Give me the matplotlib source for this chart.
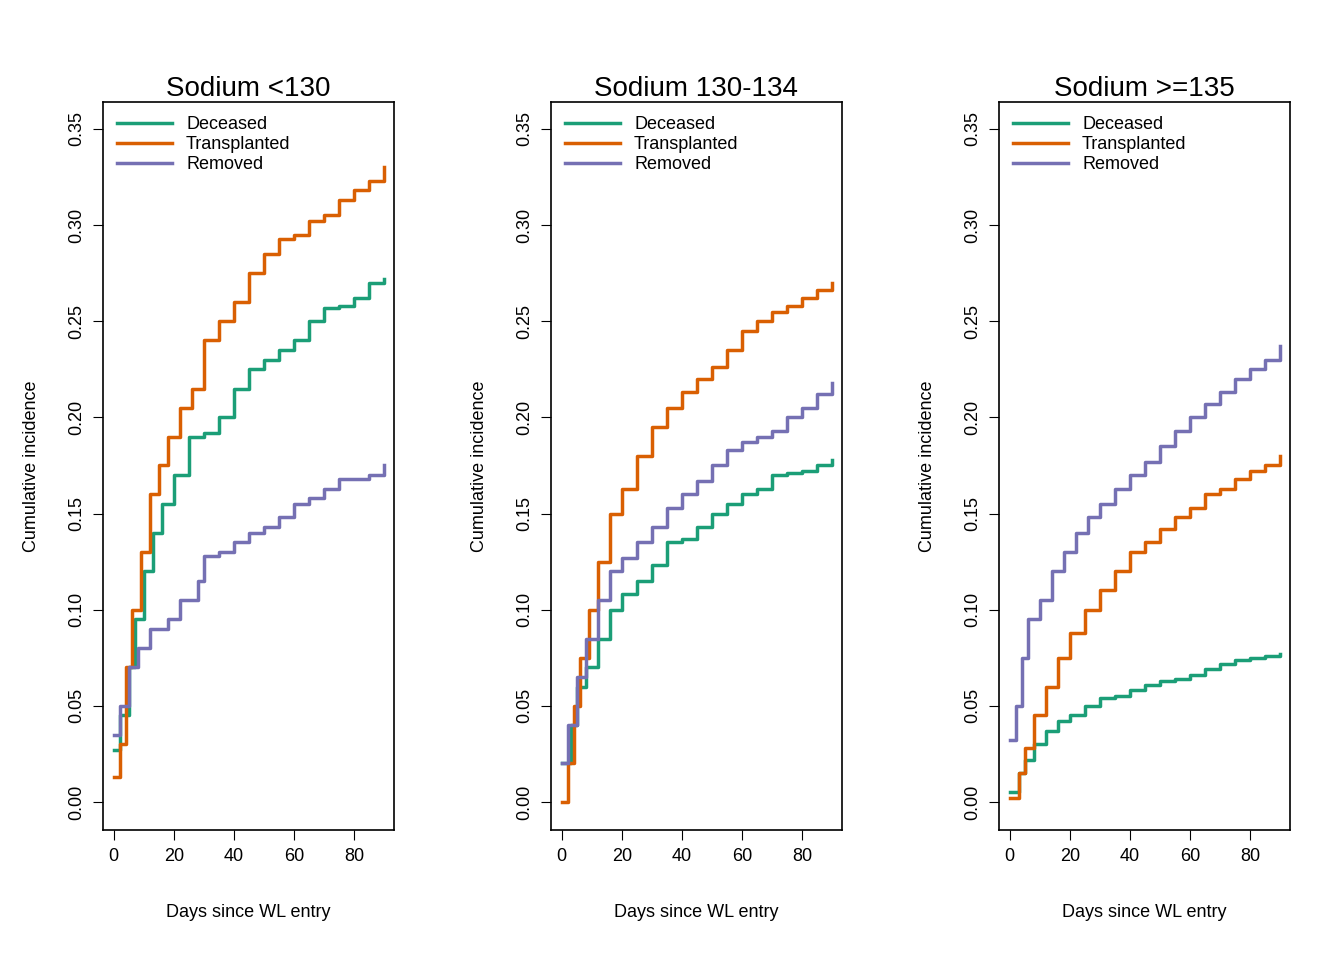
import numpy as np
import matplotlib
matplotlib.use("Agg")
import matplotlib.pyplot as plt

plt.rcParams['font.family'] = ['Liberation Sans', 'DejaVu Sans']

titles = ["Sodium <130", "Sodium 130-134", "Sodium >=135"]
labels = ["Deceased", "Transplanted", "Removed"]
colors = ["#1B9E77", "#D95F02", "#7570B3"]

# (days, cumulative incidence)
p1_dec_x = [0, 2, 5, 7, 10, 13, 16, 20, 25, 30, 35, 40, 45, 50, 55, 60, 65, 70, 75, 80, 85, 90]
p1_dec_y = [0.027, 0.045, 0.07, 0.095, 0.12, 0.14, 0.155, 0.17, 0.19, 0.192, 0.2, 0.215, 0.225, 0.23,
            0.235, 0.24, 0.25, 0.257, 0.258, 0.262, 0.27, 0.272]
p1_tx_x = [0, 2, 4, 6, 9, 12, 15, 18, 22, 26, 30, 35, 40, 45, 50, 55, 60, 65, 70, 75, 80, 85, 90]
p1_tx_y = [0.013, 0.03, 0.07, 0.1, 0.13, 0.16, 0.175, 0.19, 0.205, 0.215, 0.24, 0.25, 0.26, 0.275,
           0.285, 0.293, 0.295, 0.302, 0.305, 0.313, 0.318, 0.323, 0.33]
p1_rm_x = [0, 2, 5, 8, 12, 18, 22, 28, 30, 35, 40, 45, 50, 55, 60, 65, 70, 75, 85, 90]
p1_rm_y = [0.035, 0.05, 0.07, 0.08, 0.09, 0.095, 0.105, 0.115, 0.128, 0.13, 0.135, 0.14, 0.143,
           0.148, 0.155, 0.158, 0.163, 0.168, 0.17, 0.175]

p2_dec_x = [0, 3, 5, 8, 12, 16, 20, 25, 30, 35, 40, 45, 50, 55, 60, 65, 70, 75, 80, 85, 90]
p2_dec_y = [0.02, 0.04, 0.06, 0.07, 0.085, 0.1, 0.108, 0.115, 0.123, 0.135, 0.137, 0.143, 0.15,
            0.155, 0.16, 0.163, 0.17, 0.171, 0.172, 0.175, 0.178]
p2_tx_x = [0, 2, 4, 6, 9, 12, 16, 20, 25, 30, 35, 40, 45, 50, 55, 60, 65, 70, 75, 80, 85, 90]
p2_tx_y = [0.0, 0.02, 0.05, 0.075, 0.1, 0.125, 0.15, 0.163, 0.18, 0.195, 0.205, 0.213, 0.22, 0.226,
           0.235, 0.245, 0.25, 0.255, 0.258, 0.262, 0.266, 0.27]
p2_rm_x = [0, 2, 5, 8, 12, 16, 20, 25, 30, 35, 40, 45, 50, 55, 60, 65, 70, 75, 80, 85, 90]
p2_rm_y = [0.02, 0.04, 0.065, 0.085, 0.105, 0.12, 0.127, 0.135, 0.143, 0.153, 0.16, 0.167, 0.175,
           0.183, 0.187, 0.19, 0.193, 0.2, 0.205, 0.212, 0.218]

p3_dec_x = [0, 3, 5, 8, 12, 16, 20, 25, 30, 35, 40, 45, 50, 55, 60, 65, 70, 75, 80, 85, 90]
p3_dec_y = [0.005, 0.015, 0.022, 0.03, 0.037, 0.042, 0.045, 0.05, 0.054, 0.055, 0.058, 0.061, 0.063,
            0.064, 0.066, 0.069, 0.072, 0.074, 0.075, 0.076, 0.077]
p3_tx_x = [0, 3, 5, 8, 12, 16, 20, 25, 30, 35, 40, 45, 50, 55, 60, 65, 70, 75, 80, 85, 90]
p3_tx_y = [0.002, 0.015, 0.028, 0.045, 0.06, 0.075, 0.088, 0.1, 0.11, 0.12, 0.13, 0.135, 0.142,
           0.148, 0.153, 0.16, 0.163, 0.168, 0.172, 0.175, 0.18]
p3_rm_x = [0, 2, 4, 6, 10, 14, 18, 22, 26, 30, 35, 40, 45, 50, 55, 60, 65, 70, 75, 80, 85, 90]
p3_rm_y = [0.032, 0.05, 0.075, 0.095, 0.105, 0.12, 0.13, 0.14, 0.148, 0.155, 0.163, 0.17, 0.177,
           0.185, 0.193, 0.2, 0.207, 0.213, 0.22, 0.225, 0.23, 0.237]

panels = [
    [(p1_dec_x, p1_dec_y), (p1_tx_x, p1_tx_y), (p1_rm_x, p1_rm_y)],
    [(p2_dec_x, p2_dec_y), (p2_tx_x, p2_tx_y), (p2_rm_x, p2_rm_y)],
    [(p3_dec_x, p3_dec_y), (p3_tx_x, p3_tx_y), (p3_rm_x, p3_rm_y)],
]

fig = plt.figure(figsize=(13.44, 9.6), dpi=100)
lefts = [103 / 1344, 551 / 1344, 999 / 1344]
for left, title, curves in zip(lefts, titles, panels):
    ax = fig.add_axes([left, 0.1354, 0.2165, 0.7583])
    for (xs, ys), lab, col in zip(curves, labels, colors):
        ax.step(xs, ys, where="post", color=col, lw=2.5, label=lab)
    ax.set_xlim(-3.6, 93.3)
    ax.set_ylim(-0.0146, 0.364)
    ax.set_xticks([0, 20, 40, 60, 80])
    ax.set_yticks(np.arange(0, 0.36, 0.05))
    ax.set_yticklabels([f"{v:.2f}" for v in np.arange(0, 0.36, 0.05)], rotation=90, va="center")
    ax.tick_params(labelsize=13, length=7, pad=6)
    for s in ax.spines.values():
        s.set_linewidth(1.2)
    ax.set_title(title, fontsize=20, pad=0)
    ax.set_xlabel("Days since WL entry", fontsize=13, labelpad=28)
    ax.set_ylabel("Cumulative incidence", fontsize=13, labelpad=20)
    ax.legend(loc="upper left", frameon=False, fontsize=13, handlelength=3,
              labelspacing=0.15, borderaxespad=0.4)

fig.savefig("out.png", dpi=100)
